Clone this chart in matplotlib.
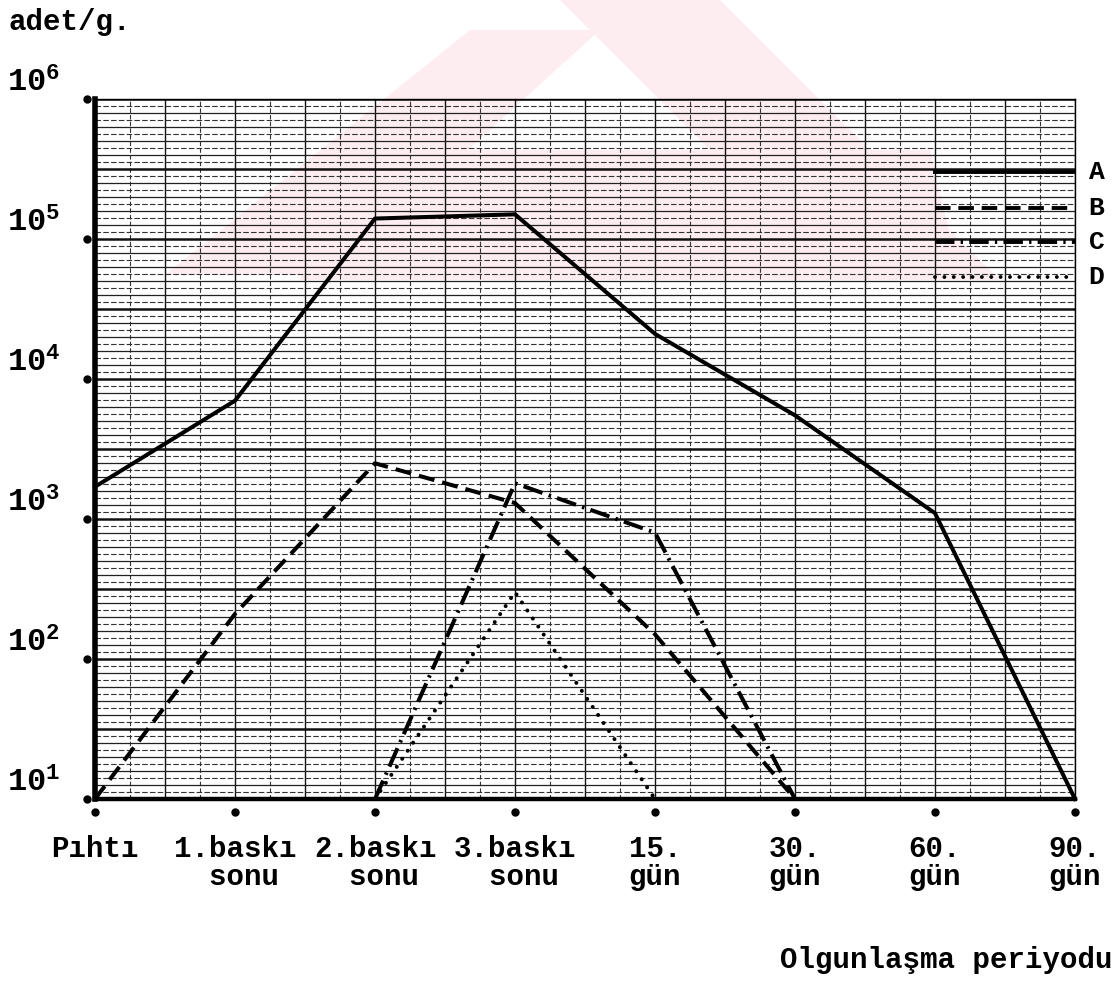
import numpy as np
import matplotlib
matplotlib.use("Agg")
import matplotlib.pyplot as plt
import matplotlib.transforms as mtransforms
from matplotlib.patches import Polygon

# ---------------- veriler ----------------
periods = ["Pıhtı", "1.baskı\n  sonu", "2.baskı\n  sonu", "3.baskı\n  sonu",
           "15.\ngün", "30.\ngün", "60.\ngün", "90.\ngün"]
series_names = ["A", "B", "C", "D"]
nan = np.nan
A = [1.7e3, 7.0e3, 1.4e5, 1.5e5, 2.1e4, 5.5e3, 1.1e3, 10]
B = [10, 2.1e2, 2.5e3, 1.3e3, 1.5e2, 10, nan, nan]
C = [nan, nan, 10, 1.8e3, 8.0e2, 10, nan, nan]
D = [nan, nan, 10, 3.0e2, 10, nan, nan, nan]
decades = [1, 2, 3, 4, 5, 6]

plt.rcParams["font.family"] = ["Liberation Mono", "DejaVu Sans Mono"]
plt.rcParams["font.weight"] = "bold"
plt.rcParams["mathtext.fontset"] = "custom"
plt.rcParams["mathtext.tt"] = "Liberation Mono:bold"
plt.rcParams["mathtext.rm"] = "Liberation Mono:bold"

W, H = 1118, 983
fig = plt.figure(figsize=(W / 100, H / 100), dpi=100)
ax = fig.add_axes([95 / W, 184 / H, 980 / W, 700 / H])
ax.set_facecolor("none")

# soluk pembe filigran (arka plan)
pink = "#fdedf0"
for pts in [
    [(165, 275), (330, 275), (600, 30), (470, 30)],
    [(560, 0), (720, 0), (1000, 280), (840, 280)],
    [(330, 150), (930, 150), (960, 280), (300, 280)],
]:
    poly = Polygon([(x / W, 1 - y / H) for x, y in pts], closed=True,
                   transform=fig.transFigure, facecolor=pink, edgecolor="none",
                   zorder=-10)
    fig.add_artist(poly)

x = np.arange(len(periods))
ax.set_yscale("log")
ax.set_xlim(0, len(periods) - 1)
ax.set_ylim(10 ** decades[0], 10 ** decades[-1])

# milimetrik kağıt ızgarası
for k, xv in enumerate(np.arange(0, len(periods) - 1 + 0.01, 0.25)):
    if k % 2 == 0:
        ax.axvline(xv, color="#111111", lw=1.0, zorder=1)
    else:
        ax.axvline(xv, color="#333333", lw=0.8, ls=(0, (4, 2)), zorder=1)
for k, lv in enumerate(np.arange(decades[0], decades[-1] + 0.001, 0.05)):
    yv = 10 ** lv
    if k % 10 == 0:
        ax.axhline(yv, color="#111111", lw=1.8, zorder=1)
    elif k % 2 == 0:
        ax.axhline(yv, color="#222222", lw=0.9, zorder=1)
    else:
        ax.axhline(yv, color="#333333", lw=0.8, ls=(0, (5, 2)), zorder=1)

styles = {
    "A": dict(ls="-"),
    "B": dict(ls=(0, (4, 2))),
    "C": dict(ls=(0, (5, 1.6, 0.6, 1.6))),
    "D": dict(ls=(0, (0.01, 2.4)), dash_capstyle="round"),
}
for name, vals in zip(series_names, [A, B, C, D]):
    ax.plot(x, vals, color="black", lw=2.9, clip_on=False, zorder=5,
            **styles[name])

# sağ üstteki açıklama çizgileri
leg_y = [0.896, 0.844, 0.796, 0.746]
for name, ly in zip(series_names, leg_y):
    ax.plot([0.857, 1.0], [ly, ly], transform=ax.transAxes, color="black",
            lw=2.8, zorder=5, **styles[name])
    ax.text(1.022, ly, name, transform=ax.transAxes, ha="center",
            va="center", fontsize=19, fontweight="bold")

# eksenler
for side in ["top", "right"]:
    ax.spines[side].set_linewidth(1.0)
ax.spines["left"].set_linewidth(4.0)
ax.spines["bottom"].set_linewidth(3.2)

ax.set_xticks(x)
ax.set_xticklabels(periods, fontsize=21, fontweight="bold")
ax.set_yticks([10.0 ** d for d in decades])
ax.set_yticklabels([r"$\mathtt{10^{%d}}$" % d for d in decades], fontsize=23)
ax.yaxis.set_minor_locator(matplotlib.ticker.NullLocator())
ax.tick_params(axis="x", length=0, pad=26)
ax.tick_params(axis="y", length=0, pad=25)
for lab in ax.get_xticklabels():
    lab.set_linespacing(1.0)
    lab.set_multialignment("left")
for lab in ax.get_yticklabels():
    lab.set_verticalalignment("bottom")

# eksen üzerindeki nokta işaretleri
tx = mtransforms.blended_transform_factory(ax.transData, ax.transAxes)
ax.plot(x, [-0.0186] * len(x), "o", ms=5, color="black", transform=tx,
        clip_on=False)
ty = mtransforms.blended_transform_factory(ax.transAxes, ax.transData)
ax.plot([-0.008] * len(decades), [10.0 ** d for d in decades], "o", ms=5,
        color="black", transform=ty, clip_on=False)

fig.text(8 / W, 1 - 30 / H, "adet/g.", fontsize=21, fontweight="bold",
         va="baseline", ha="left")
fig.text(1112 / W, 1 - 968 / H, "Olgunlaşma periyodu", fontsize=21,
         fontweight="bold", va="baseline", ha="right")

fig.savefig("out.png", dpi=100)
